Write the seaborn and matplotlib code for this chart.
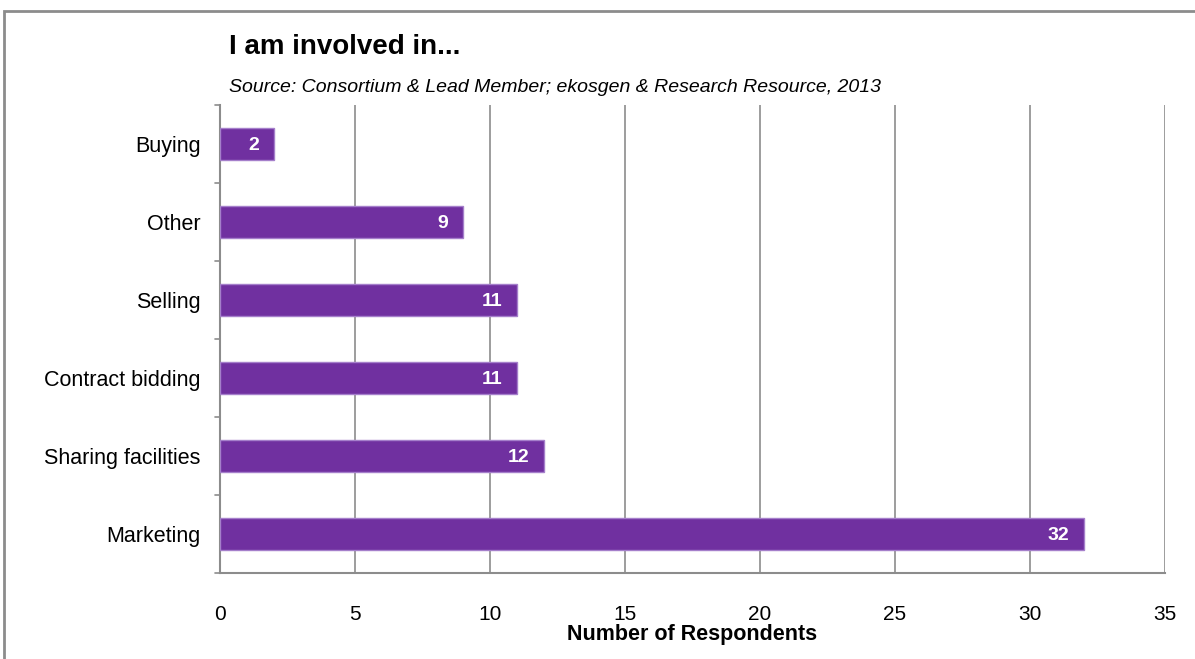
import matplotlib
matplotlib.use("Agg")
import matplotlib.pyplot as plt
import seaborn as sns
import pandas as pd
from matplotlib.patches import Rectangle

categories = ["Buying", "Other", "Selling", "Contract bidding", "Sharing facilities", "Marketing"]
respondents = [2, 9, 11, 11, 12, 32]
x_ticks = [0, 5, 10, 15, 20, 25, 30, 35]

df = pd.DataFrame({"activity": categories, "count": respondents})

sns.set_style("white")
plt.rcParams["font.family"] = ["Liberation Sans", "DejaVu Sans"]
plt.rcParams["text.color"] = "black"
plt.rcParams["xtick.labelcolor"] = "black"
plt.rcParams["ytick.labelcolor"] = "black"
plt.rcParams["axes.labelcolor"] = "black"

fig = plt.figure(figsize=(11.95, 6.59), dpi=100)
ax = fig.add_axes([220 / 1195, 1 - 573 / 659, 945 / 1195, 468 / 659])

purple = "#7030A0"
sns.barplot(data=df, y="activity", x="count", orient="h", color=purple, saturation=1,
            width=0.4, edgecolor="#a57fcb", linewidth=1.0, ax=ax, zorder=3)

ax.set_xlim(0, 35)
ax.set_ylim(len(categories) - 0.5, -0.5)
ax.set_xticks(x_ticks)
ax.set_xticklabels([str(t) for t in x_ticks], fontsize=15)
ax.xaxis.grid(True, color="#8c8c8c", linewidth=1.2, zorder=0)
ax.set_axisbelow(True)

# category labels
ax.set_yticks(range(len(categories)))
ax.set_yticklabels(categories, fontsize=15.5)
ax.tick_params(axis="y", length=0, pad=14)
ax.tick_params(axis="x", length=5, width=1.2, color="#8c8c8c", pad=18, direction="out")
# separators between categories on the y axis
for b in [i + 0.5 for i in range(-1, len(categories))]:
    ax.plot([-0.2, 0], [b, b], color="#8c8c8c", lw=1.2, clip_on=False, zorder=4)

for s in ["top", "right"]:
    ax.spines[s].set_visible(False)
for s in ["left", "bottom"]:
    ax.spines[s].set_color("#8c8c8c")
    ax.spines[s].set_linewidth(1.5)

ax.set_ylabel("")
ax.set_xlabel("Number of Respondents", fontsize=15.5, fontweight="bold", labelpad=0)

for i, v in enumerate(respondents):
    ax.text(v - 0.55, i, str(v), ha="right", va="center_baseline", color="white",
            fontsize=14, fontweight="bold", zorder=5)

fig.text(229 / 1195, 1 - 47 / 659, "I am involved in...", fontsize=20, fontweight="bold",
         ha="left", va="center")
fig.text(229 / 1195, 1 - 87 / 659,
         "Source: Consortium & Lead Member; ekosgen & Research Resource, 2013",
         fontsize=14, style="italic", ha="left", va="center")

# outer frame of the figure panel
fig.patches.append(Rectangle((4 / 1195, -0.05), 1.2, 1 - 11 / 659 + 0.05,
                             transform=fig.transFigure, fill=False,
                             edgecolor="#8c8c8c", linewidth=2, clip_on=False))

fig.savefig("out.png", dpi=100)
